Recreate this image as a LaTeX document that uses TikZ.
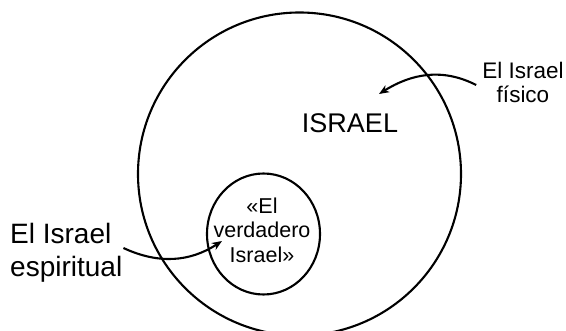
\documentclass[tikz,border=0pt]{standalone}
\usepackage{fontspec}
\setmainfont{Liberation Sans}
\usetikzlibrary{arrows.meta,shapes.geometric}

\begin{document}
\begin{tikzpicture}[x=1pt, y=-1pt,
    ring/.style={draw, line width=2.1pt, inner sep=0pt, outer sep=0pt},
    lbl/.style={inner sep=0pt, align=center},
    pointer/.style={line width=2.1pt, -{Stealth[length=10pt, width=8pt, inset=3pt]}}]
    \useasboundingbox (0,0) rectangle (566,331);
    \clip (0,0) rectangle (566,331);

    \node[ring, circle, minimum size=323pt] (outer) at (299.5,174) {};
    \node[ring, ellipse, minimum width=113pt, minimum height=121pt] (inner) at (263.5,234) {};

    \node[lbl, font=\fontsize{27}{32}\selectfont] (israel) at (350,123) {ISRAEL};
    \node[lbl, font=\fontsize{21.5}{24.5}\selectfont] (verdadero) at (262,230) {«El\\verdadero\\Israel»};
    \node[lbl, font=\fontsize{22.5}{24}\selectfont] (fisico) at (523,82) {El Israel\\físico};
    \node[lbl, align=left, anchor=west, font=\fontsize{28}{33}\selectfont] (espiritual) at (10,253) {El Israel\\espiritual};

    \coordinate (fisicotip) at (379,94);
    \coordinate (espiritualtip) at (222,241);

    \draw[pointer] ([xshift=-6pt, yshift=-3pt]fisico.west) to[out=153, in=32] (fisicotip);
    \draw[pointer] ([xshift=1pt, yshift=5pt]espiritual.east) to[out=-25, in=213] (espiritualtip);
\end{tikzpicture}
\end{document}
